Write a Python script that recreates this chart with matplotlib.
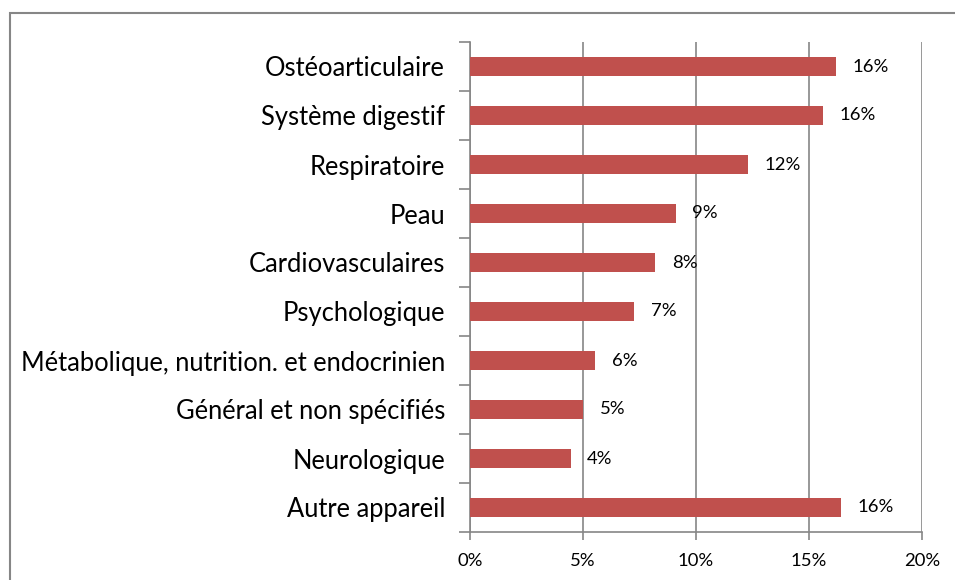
import matplotlib.pyplot as plt
from matplotlib.patches import Rectangle

categories = ["Ostéoarticulaire", "Système digestif", "Respiratoire", "Peau",
              "Cardiovasculaires", "Psychologique",
              "Métabolique, nutrition. et endocrinien",
              "Général et non spécifiés", "Neurologique", "Autre appareil"]
values = [16.2, 15.6, 12.3, 9.1, 8.2, 7.25, 5.55, 5.0, 4.45, 16.4]
xticks = [0, 5, 10, 15, 20]

bar_color = "#C0504D"
axis_color = "#868686"

plt.rcParams['font.family'] = ['Lato', 'DejaVu Sans']

fig = plt.figure(figsize=(9.55, 5.8), dpi=100)
ax = fig.add_axes([470 / 955, 1 - 532 / 580, 452 / 955, 490 / 580])

pos = list(range(len(categories)))[::-1]
ax.barh(pos, values, height=0.39, color=bar_color, zorder=3)
for p, v in zip(pos, values):
    ax.annotate(f"{round(v):.0f}%", (v, p), xytext=(12, 0), textcoords="offset points",
                ha="left", va="center", fontsize=13.3, color="black")

ax.set_xlim(0, 20)
ax.set_ylim(-0.5, len(categories) - 0.5)
ax.set_xticks(xticks)
ax.set_xticklabels([f"{t}%" for t in xticks], fontsize=13.3)
ax.set_yticks(pos)
ax.set_yticklabels(categories, fontsize=18.4)
ax.set_yticks([i - 0.5 for i in range(len(categories) + 1)], minor=True)
ax.tick_params(axis="y", which="major", length=0, pad=18)
ax.tick_params(axis="y", which="minor", length=8, color=axis_color, width=1.2)
ax.tick_params(axis="x", length=6, color=axis_color, width=1.2, pad=9)
ax.grid(axis="x", color=axis_color, linewidth=1.2, zorder=0)

for s in ["top", "right"]:
    ax.spines[s].set_visible(False)
for s in ["left", "bottom"]:
    ax.spines[s].set_color(axis_color)
    ax.spines[s].set_linewidth(1.2)

# chart frame
fig.patches.append(Rectangle((10 / 955, -0.1), 1.2, 1 - 13 / 580 + 0.1,
                             transform=fig.transFigure, fill=False,
                             edgecolor=axis_color, linewidth=1.5))

fig.savefig("out.png", dpi=100)
